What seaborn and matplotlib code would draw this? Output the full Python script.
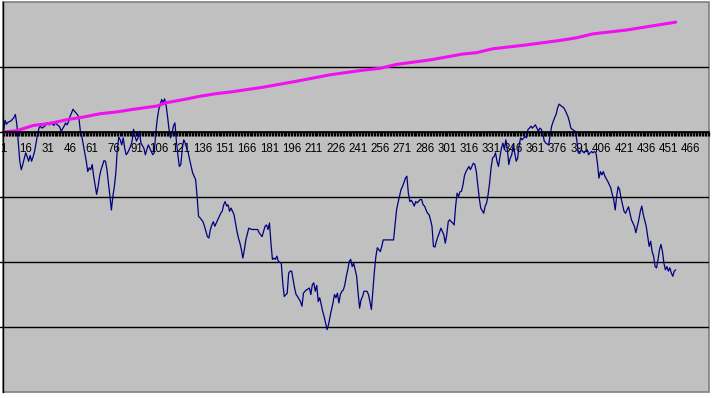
import numpy as np
import pandas as pd
import seaborn as sns
import matplotlib.pyplot as plt
from matplotlib.patches import Rectangle

# values (row number -> value, grid step = 100)
navy_idx = [1, 2, 3, 4, 6, 8, 9, 10, 11, 12,
            13, 14, 16, 17, 18, 19, 20, 21, 22, 23,
            24, 25, 26, 27, 29, 30, 32, 33, 35, 36,
            38, 39, 40, 42, 43, 44, 45, 46, 47, 48,
            49, 51, 52, 53, 54, 56, 57, 58, 59, 60,
            61, 62, 64, 65, 66, 67, 69, 70, 71, 72,
            73, 74, 75, 76, 77, 78, 79, 80, 81, 82,
            83, 84, 85, 87, 88, 89, 90, 91, 92, 93,
            94, 96, 97, 98, 99, 100, 101, 102, 103, 104,
            105, 106, 107, 108, 109, 110, 111, 112, 113, 114,
            115, 116, 117, 118, 119, 120, 121, 122, 123, 124,
            125, 126, 127, 128, 129, 131, 132, 133, 134, 135,
            136, 137, 139, 140, 141, 142, 143, 144, 145, 146,
            148, 149, 150, 151, 152, 153, 154, 155, 156, 157,
            158, 159, 160, 161, 162, 163, 164, 165, 167, 168,
            169, 171, 173, 174, 176, 177, 178, 179, 180, 181,
            182, 183, 184, 185, 186, 187, 189, 190, 191, 193,
            194, 195, 196, 197, 198, 199, 200, 202, 203, 204,
            205, 206, 208, 209, 210, 211, 212, 213, 214, 215,
            216, 217, 218, 219, 220, 221, 222, 223, 224, 225,
            226, 227, 228, 229, 230, 231, 232, 233, 234, 235,
            236, 237, 238, 239, 240, 241, 242, 243, 244, 245,
            247, 248, 249, 250, 251, 252, 253, 254, 255, 256,
            257, 258, 260, 263, 265, 266, 267, 268, 269, 270,
            271, 272, 273, 274, 275, 276, 277, 278, 279, 280,
            281, 283, 284, 285, 286, 287, 288, 289, 290, 291,
            292, 293, 294, 295, 296, 297, 299, 300, 301, 302,
            303, 304, 305, 306, 307, 308, 309, 310, 311, 312,
            313, 314, 316, 317, 318, 319, 320, 321, 322, 323,
            324, 326, 327, 328, 329, 330, 331, 332, 333, 334,
            335, 336, 337, 338, 339, 340, 341, 342, 343, 344,
            345, 346, 347, 348, 349, 350, 351, 352, 354, 355,
            356, 357, 358, 359, 361, 362, 363, 364, 365, 366,
            367, 368, 370, 371, 372, 373, 374, 375, 376, 377,
            379, 380, 381, 382, 383, 384, 385, 386, 388, 389,
            390, 391, 392, 393, 394, 396, 397, 398, 399, 400,
            401, 402, 403, 404, 405, 406, 407, 408, 409, 410,
            411, 412, 413, 414, 415, 416, 417, 418, 419, 420,
            421, 422, 423, 424, 425, 426, 428, 429, 430, 431,
            432, 433, 434, 436, 437, 438, 439, 440, 441, 442,
            443, 444, 445, 446, 447, 448, 449, 450, 451, 452,
            453, 454, 455, 456]
navy_val = [0, 18, 12, 15, 17, 22, 27, 12, -17, -45,
            -58, -50, -32, -38, -45, -36, -45, -38, -30, -17,
            -4, 6, 9, 6, 9, 14, 11, 15, 10, 14,
            10, 8, 1, 9, 14, 11, 16, 24, 29, 35,
            32, 27, 22, 1, -7, -32, -45, -61, -55, -58,
            -50, -68, -96, -84, -68, -58, -44, -45, -58, -78,
            -99, -120, -99, -84, -63, -27, -8, -12, -20, -9,
            -25, -35, -32, -22, -14, 4, -7, -14, -9, 1,
            -17, -25, -35, -27, -20, -25, -30, -35, -32, -2,
            19, 34, 42, 50, 45, 51, 42, 24, 4, -9,
            -2, 9, 14, -14, -35, -53, -50, -25, -12, -17,
            -25, -32, -43, -53, -63, -73, -99, -130, -132, -135,
            -138, -145, -161, -163, -150, -143, -138, -145, -140, -135,
            -125, -122, -112, -107, -114, -112, -122, -117, -122, -127,
            -140, -153, -163, -171, -181, -194, -181, -166, -148, -149,
            -150, -150, -150, -155, -161, -153, -145, -143, -150, -140,
            -171, -196, -194, -196, -191, -199, -202, -232, -253, -248,
            -217, -214, -214, -227, -240, -250, -253, -261, -268, -248,
            -245, -243, -240, -250, -235, -232, -245, -236, -261, -255,
            -265, -276, -284, -294, -304, -296, -284, -273, -263, -250,
            -255, -248, -263, -250, -245, -243, -235, -222, -212, -199,
            -196, -207, -202, -212, -222, -248, -271, -258, -253, -245,
            -245, -250, -261, -273, -245, -215, -192, -178, -181, -184,
            -176, -166, -166, -166, -166, -143, -120, -109, -99, -89,
            -84, -78, -71, -68, -94, -107, -105, -109, -114, -107,
            -109, -104, -104, -112, -114, -120, -125, -127, -135, -145,
            -176, -177, -168, -161, -155, -148, -158, -171, -158, -138,
            -135, -138, -140, -143, -114, -94, -99, -92, -91, -81,
            -67, -61, -53, -58, -53, -48, -50, -61, -81, -102,
            -117, -125, -114, -109, -96, -78, -55, -40, -38, -32,
            -45, -53, -38, -25, -17, -27, -12, -27, -50, -40,
            -35, -20, -32, -45, -40, -20, -9, -12, -7, -9,
            4, 6, 9, 6, 11, 6, 1, 6, 4, -2,
            -14, -17, -20, -4, 9, 16, 22, 27, 37, 43,
            39, 38, 34, 29, 24, 16, 6, 4, 1, -12,
            -32, -33, -27, -30, -32, -27, -35, -32, -30, -32,
            -30, -32, -48, -71, -61, -66, -61, -68, -72, -76,
            -81, -86, -96, -104, -120, -99, -84, -89, -102, -112,
            -122, -125, -120, -115, -125, -135, -145, -155, -145, -135,
            -122, -114, -127, -145, -161, -176, -168, -184, -191, -207,
            -209, -196, -181, -173, -184, -202, -212, -207, -214, -209,
            -217, -222, -214, -212]

pink_idx = [1, 10, 21, 32, 44, 55, 66, 78, 89, 105, 111, 123, 134, 145, 156, 177,
            199, 222, 244, 256, 267, 290, 312, 321, 332, 355, 378, 389, 400, 423, 445, 456]
pink_val = [0, 2, 10, 13, 19, 23, 28, 31, 35, 40, 45, 50, 55, 59, 62, 69,
            78, 88, 95, 98, 104, 111, 120, 122, 128, 134, 141, 145, 151, 157, 165, 169]

label_pos = [1, 16, 31, 46, 61, 76, 91, 106, 121, 136, 151, 166, 181, 196, 211, 226,
             241, 256, 271, 286, 301, 316, 331, 346, 361, 376, 391, 406, 421, 436, 451, 466]
tick_labels = ['1', '16', '31', '46', '61', '76', '91', '106', '121', '136', '151',
               '166', '181', '196', '211', '226', '241', '256', '271', '286', '301',
               '316', '331', '346', '361', '376', '391', '406', '421', '436', '451', '466']
n_rows = 478

navy_df = pd.DataFrame({'row': navy_idx, 'value': navy_val})
pink_df = pd.DataFrame({'row': pink_idx, 'value': pink_val})

sns.set_style('white')
plt.rcParams['font.family'] = ['Liberation Sans', 'DejaVu Sans']

fig = plt.figure(figsize=(7.12, 3.98), dpi=100)
ax = fig.add_axes([2.8 / 712, 6 / 398, 706.2 / 712, 390 / 398])
ax.set_facecolor('#C0C0C0')

sns.lineplot(data=navy_df, x='row', y='value', ax=ax, color='#000080', linewidth=0.9)
sns.lineplot(data=pink_df, x='row', y='value', ax=ax, color='#F010F0', linewidth=2.2)

ax.set_xlim(0.5, n_rows + 0.5)
ax.set_ylim(-400, 200)

# category axis crossing at zero
ax.spines['bottom'].set_position(('data', 0))
ax.spines['bottom'].set_color('black')
ax.spines['bottom'].set_linewidth(1.2)
ax.spines['left'].set_color('black')
ax.spines['left'].set_linewidth(1.0)
ax.spines['top'].set_visible(False)
ax.spines['right'].set_visible(False)
ax.add_patch(Rectangle((0, 0), 1, 1, transform=ax.transAxes, fill=False,
                       edgecolor='#808080', linewidth=1.2, clip_on=False, zorder=0.5))

ax.set_xticks(label_pos, labels=tick_labels)
ax.set_xticks(np.arange(0.5, n_rows + 1, 1), minor=True)
ax.tick_params(axis='x', which='major', bottom=True, length=0, pad=8,
               labelsize=8.3, labelcolor='black')
ax.tick_params(axis='x', which='minor', bottom=True, length=3.2, width=1.0,
               direction='out', color='black')

ax.set_yticks([-300, -200, -100, 0, 100])
ax.tick_params(axis='y', left=True, length=3, width=1, direction='out',
               labelleft=False, color='black')
ax.grid(axis='y', color='black', linewidth=1)
ax.grid(axis='x', visible=False)
ax.set_axisbelow(True)
ax.set_xlabel('')
ax.set_ylabel('')

fig.savefig('out.png', dpi=100)
